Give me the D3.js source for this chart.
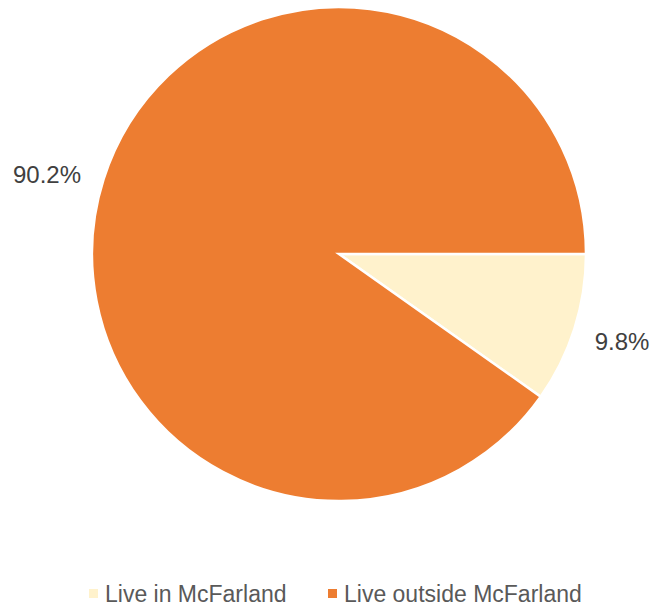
<!DOCTYPE html>
<html>
<head>
<meta charset="utf-8">
<script src="https://cdn.jsdelivr.net/npm/d3@7"></script>
<style>
html,body{margin:0;padding:0;background:#fff;}
svg{display:block;font-family:"Liberation Sans",Arial,sans-serif;}
</style>
</head>
<body>
<svg id="chart" width="656" height="610"></svg>
<script>
const categories = ["Live in McFarland", "Live outside McFarland"];
const values = [9.8, 90.2];
const labels = ["9.8%", "90.2%"];
const colors = ["#FFF2CC", "#ED7D31"];

const svg = d3.select("#chart");
const cx = 339, cy = 254, r = 247;

const pie = d3.pie().sort(null).value(d => d)
  .startAngle(Math.PI / 2).endAngle(Math.PI / 2 + 2 * Math.PI);
const arcs = pie(values);
const arc = d3.arc().innerRadius(0).outerRadius(r);
const labelArc = d3.arc().innerRadius(298).outerRadius(298);

const g = svg.append("g").attr("transform", `translate(${cx},${cy})`);
g.selectAll("path").data(arcs).enter().append("path")
  .attr("d", arc)
  .attr("fill", (d, i) => colors[i])
  .attr("stroke", "#fff")
  .attr("stroke-width", 2.5)
  .attr("stroke-linejoin", "miter");

// Excel-like placement: left-side labels sit a bit lower and further out
g.selectAll("text").data(arcs).enter().append("text")
  .attr("x", d => { const c = labelArc.centroid(d); return c[0] < 0 ? c[0] - 8 : c[0] - 1; })
  .attr("y", d => { const c = labelArc.centroid(d); return c[1] < 0 ? c[1] + 11 : c[1] - 3; })
  .attr("text-anchor", "middle")
  .attr("dominant-baseline", "central")
  .attr("font-size", 24)
  .attr("fill", "#404040")
  .text((d, i) => labels[i]);

// legend
const legendX = [89, 328];
const legend = svg.append("g");
categories.forEach((c, i) => {
  legend.append("rect")
    .attr("x", legendX[i]).attr("y", 589)
    .attr("width", 9).attr("height", 9)
    .attr("fill", colors[i]);
  legend.append("text")
    .attr("x", legendX[i] + 16).attr("y", 594)
    .attr("dominant-baseline", "central")
    .attr("font-size", 23)
    .attr("fill", "#595959")
    .text(c);
});
</script>
</body>
</html>
